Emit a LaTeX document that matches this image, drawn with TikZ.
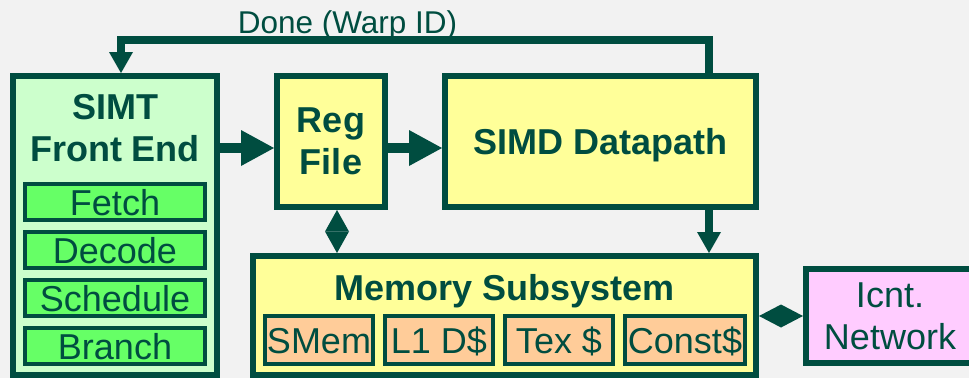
\documentclass[tikz,border=0pt]{standalone}
\usepackage{fontspec}
\setmainfont{Liberation Sans}
\usetikzlibrary{arrows.meta}
\definecolor{bgc}{HTML}{F2F2F2}
\definecolor{dk}{HTML}{004D40}
\definecolor{ltgreen}{HTML}{CCFFCC}
\definecolor{brgreen}{HTML}{66FF66}
\definecolor{ylw}{HTML}{FFFF99}
\definecolor{pnk}{HTML}{FFCCFF}
\definecolor{org}{HTML}{FFCC99}
\begin{document}
\begin{tikzpicture}[x=1pt,y=-1pt,
  bigbox/.style={draw=dk, line width=6pt, inner sep=0pt, text=dk, align=center},
  subbox/.style={draw=dk, line width=4pt, inner sep=0pt, text=dk,
    font=\fontsize{36}{42}\selectfont, text height=26pt, text depth=0pt},
  boldtxt/.style={font=\fontsize{36}{42}\selectfont\bfseries},
  normtxt/.style={font=\fontsize{36}{42}\selectfont},
  lbl/.style={text=dk, inner sep=0pt, align=center},
  bigarrow/.style={draw=dk, line width=10.5pt,
    -{Triangle[length=33pt,width=36pt,line width=0pt]}},
  medarrow/.style={draw=dk, line width=7.5pt, line join=miter,
    -{Triangle[length=21pt,width=24pt,line width=0pt]}},
  vdiamond/.style={draw=dk, fill=dk, line width=1pt,
    {Triangle[length=21.5pt,width=24pt,line width=0pt]}-{Triangle[length=21.5pt,width=24pt,line width=0pt]}},
  hdiamond/.style={draw=dk, fill=dk, line width=1pt,
    {Triangle[length=22pt,width=23pt,line width=0pt]}-{Triangle[length=22pt,width=23pt,line width=0pt]}}
]
\fill[bgc] (0,0) rectangle (969,378);
\useasboundingbox (0,0) rectangle (969,378);

% main boxes
\node[bigbox, fill=ltgreen, minimum width=204pt, minimum height=299pt] (simt) at (115,225.5) {};
\node[lbl, boldtxt] (simtlbl) at (115,128.1) {SIMT\\Front End};
\node[bigbox, fill=ylw, boldtxt, minimum width=108pt, minimum height=131pt] (reg) at (331,141.5) {Reg\\File};
\node[bigbox, fill=ylw, boldtxt, text depth=0pt, minimum width=311pt, minimum height=131pt] (simd) at (600.5,141.5) {SIMD Datapath};
\node[bigbox, fill=ylw, minimum width=503pt, minimum height=119pt] (mem) at (504.5,315.5) {};
\node[lbl, boldtxt, anchor=base] (memlbl) at (504.5,300) {Memory Subsystem};
\node[bigbox, fill=pnk, normtxt, minimum width=168pt, minimum height=94pt] (icnt) at (890,316) {Icnt.\\Network};

% front end stages
\node[subbox, fill=brgreen, minimum width=180pt, minimum height=36pt] (fetch) at (115,202) {Fetch};
\node[subbox, fill=brgreen, minimum width=180pt, minimum height=36pt] (decode) at (115,250) {Decode};
\node[subbox, fill=brgreen, minimum width=180pt, minimum height=36pt] (sched) at (115,298) {Schedule};
\node[subbox, fill=brgreen, minimum width=180pt, minimum height=36pt] (branch) at (115,346) {Branch};

% memory parts
\node[subbox, fill=org, minimum width=108pt, minimum height=48pt] (smem) at (319,340) {SMem};
\node[subbox, fill=org, minimum width=108pt, minimum height=48pt] (l1) at (439,340) {L1 D\$};
\node[subbox, fill=org, minimum width=108pt, minimum height=48pt] (tex) at (559,340) {Tex \$};
\node[subbox, fill=org, minimum width=120pt, minimum height=48pt] (const) at (685,340) {Const\$};

% helper coordinates
\coordinate (arrY) at (0,148);
\coordinate (dX) at (337,0);
\coordinate (fX) at (709,0);
\coordinate (fbTop) at (121,40);

% connectors
\draw[bigarrow] (simt.east |- arrY) -- (reg.west |- arrY);
\draw[bigarrow] (reg.east |- arrY) -- (simd.west |- arrY);
\draw[vdiamond] (reg.south -| dX) -- (mem.north -| dX);
\draw[hdiamond] (mem.east |- icnt.west) -- (icnt.west);
\draw[medarrow] (simd.south -| fX) -- (mem.north -| fX);
\draw[medarrow] (simd.north -| fX) |- (fbTop) -- (simt.north -| fbTop);

\node[lbl, font=\fontsize{31.5}{36}\selectfont, anchor=base] (done) at (347.5,33) {Done (Warp ID)};
\end{tikzpicture}
\end{document}
